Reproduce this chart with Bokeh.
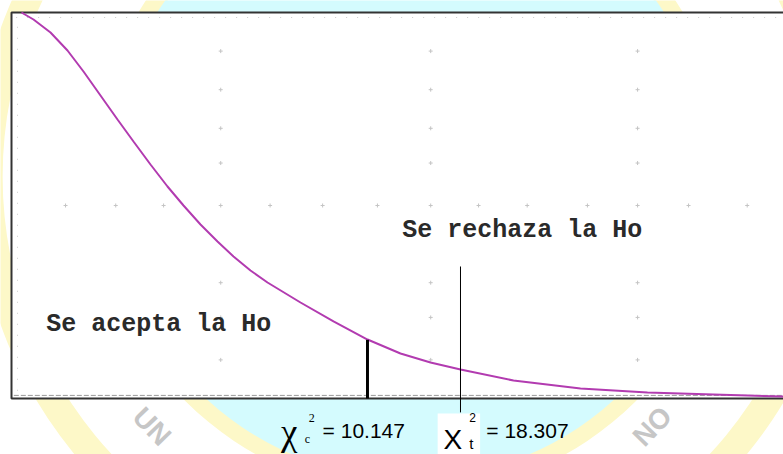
from bokeh.plotting import figure
from bokeh.models import Range1d
from bokeh.core.properties import value
from bokeh.embed import file_html
from bokeh.resources import INLINE

# ---- data (abstract horizontal units, density on vertical 0..1) ----
curve_x = [1.295, 2.85, 5.052, 7.254, 9.326, 11.528, 13.731, 15.803, 18.005, 20.207, 22.28,
           24.482, 26.684, 28.756, 30.959, 33.161, 37.435, 41.71, 46.114, 50.389, 54.275,
           58.161, 65.026, 73.705, 82.383, 90.933, 95.337, 100.0]
curve_y = [1.0, 0.9819, 0.9482, 0.9016, 0.8472, 0.785, 0.7228, 0.6658, 0.6062, 0.5492, 0.5,
           0.4508, 0.4067, 0.3679, 0.3316, 0.3005, 0.2487, 0.1995, 0.1528, 0.1166, 0.0933,
           0.0751, 0.0466, 0.0259, 0.0155, 0.0104, 0.0078, 0.0052]

chi_c_x = 46.11
chi_c_y = 0.152
chi_t_x = 58.16
chi_t_top = 0.342
chi_t_bottom = -0.036

grid_row_cols = [7.0, 13.5, 19.7, 27.1, 33.5, 40.3, 47.4, 54.3, 60.5, 66.8, 74.6, 81.1, 87.7, 95.3]
grid_row_y = 0.5
grid_major_cols = [27.1, 54.3, 81.1]
grid_major_rows = [0.9, 0.8, 0.7, 0.61, 0.3, 0.21, 0.1]

label_reject = "Se rechaza la Ho"
label_accept = "Se acepta la Ho"
chi_c_value = "= 10.147"
chi_t_value = "= 18.307"

# pixel mapping: 7.72 px per x unit, 386 px per y unit
p = figure(width=783, height=454, output_backend="svg", toolbar_location=None,
           x_range=Range1d(-1.425, 100.0), y_range=Range1d(-0.1451, 1.0311),
           x_axis_type=None, y_axis_type=None, min_border=0,
           background_fill_color="white", border_fill_color="white",
           outline_line_color=None)
p.xgrid.visible = False
p.ygrid.visible = False

# watermark logo (background)
cx, cy = 51.7, 0.575
p.annulus(x=[cx], y=[cy], inner_radius=408, outer_radius=436,
          inner_radius_units="screen", outer_radius_units="screen",
          fill_color="#fdf8c8", line_color=None)
p.annulus(x=[cx], y=[cy], inner_radius=300, outer_radius=318,
          inner_radius_units="screen", outer_radius_units="screen",
          fill_color="#fdf8c8", line_color=None)
p.circle(x=[cx], y=[cy], radius=302, radius_units="screen",
         fill_color="#d4fbfe", line_color=None)
p.text(x=[18.2], y=[-0.072], text=["UN"], angle=-0.8, text_color="#c6c6c6",
       text_font=value("Liberation Sans"), text_font_style="bold", text_font_size="28px",
       text_align="center", text_baseline="middle")
p.text(x=[83.0], y=[-0.072], text=["NO"], angle=0.8, text_color="#c6c6c6",
       text_font=value("Liberation Sans"), text_font_style="bold", text_font_size="28px",
       text_align="center", text_baseline="middle")

# plot box (white)
p.quad(left=[0], right=[110], bottom=[0], top=[1.0], fill_color="white", line_color=None)

# faint dotted frame lines
p.line(x=[0.6, 100], y=[0.987, 0.987], line_color="#cccccc", line_width=1, line_dash="1 10")
p.line(x=[0.78, 0.78], y=[0.02, 0.98], line_color="#cccccc", line_width=1, line_dash="1 10")
p.line(x=[0.3, 100], y=[0.008, 0.008], line_color="#9a9a9a", line_width=1, line_dash="5 2")

# faint grid marks
p.scatter(x=grid_row_cols, y=[grid_row_y] * len(grid_row_cols), marker="cross", size=4,
          line_color="#c4c4c4", line_width=1)
gx = [c for r in grid_major_rows for c in grid_major_cols]
gy = [r for r in grid_major_rows for c in grid_major_cols]
p.scatter(x=gx, y=gy, marker="cross", size=4, line_color="#c4c4c4", line_width=1)

# box border
p.line(x=[100, 0, 0, 100], y=[1.0, 1.0, 0, 0], line_color="#333333", line_width=2)

# density curve
p.line(x=curve_x, y=curve_y, line_color="#b23bb0", line_width=2)

# critical lines
p.segment(x0=[chi_c_x], y0=[0], x1=[chi_c_x], y1=[chi_c_y], line_color="black", line_width=3)
p.segment(x0=[chi_t_x], y0=[chi_t_bottom], x1=[chi_t_x], y1=[chi_t_top],
          line_color="black", line_width=1)

# region labels
p.text(x=[50.6], y=[0.435], text=[label_reject], text_font=value("Liberation Mono"),
       text_font_style="bold", text_font_size="25px", text_color="#2a2a2a",
       text_baseline="middle", text_align="left")
p.text(x=[4.5], y=[0.192], text=[label_accept], text_font=value("Liberation Mono"),
       text_font_style="bold", text_font_size="25px", text_color="#2a2a2a",
       text_baseline="middle", text_align="left")

# chi labels below the axis
p.quad(left=[55.2], right=[60.7], bottom=[-0.2], top=[-0.039], fill_color="white", line_color=None)
p.text(x=[34.9], y=[-0.0881], text=["χ"], text_font=value("Liberation Serif"),
       text_font_size="37px", text_color="black", text_baseline="alphabetic")
p.text(x=[38.5], y=[-0.0518], text=["2"], text_font=value("Liberation Serif"),
       text_font_size="12px", text_color="black", text_baseline="alphabetic")
p.text(x=[38.0], y=[-0.1062], text=["c"], text_font=value("Liberation Serif"),
       text_font_size="12px", text_color="black", text_baseline="alphabetic")
p.text(x=[40.3], y=[-0.0829], text=[chi_c_value], text_font=value("Liberation Sans"),
       text_font_size="21px", text_color="black", text_baseline="alphabetic")

p.text(x=[55.96], y=[-0.1062], text=["X"], text_font=value("Liberation Sans"),
       text_font_size="28px", text_color="black", text_baseline="alphabetic")
p.text(x=[59.3], y=[-0.0492], text=["2"], text_font=value("Liberation Sans"),
       text_font_size="12px", text_color="black", text_baseline="alphabetic")
p.text(x=[59.3], y=[-0.1166], text=["t"], text_font=value("Liberation Sans"),
       text_font_size="15px", text_color="black", text_baseline="alphabetic")
p.text(x=[61.5], y=[-0.0829], text=[chi_t_value], text_font=value("Liberation Sans"),
       text_font_size="21px", text_color="black", text_baseline="alphabetic")

open("out.html", "w").write(file_html(p, INLINE))
